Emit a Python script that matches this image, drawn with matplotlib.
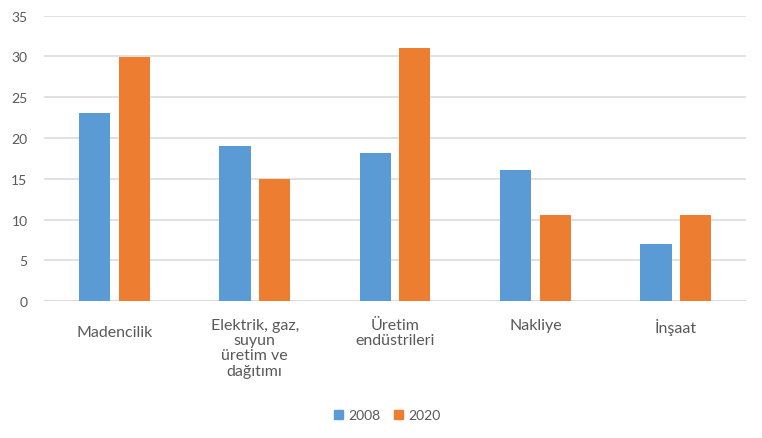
import numpy as np
import matplotlib
matplotlib.use("Agg")
import matplotlib.pyplot as plt
from matplotlib.patches import Patch
import matplotlib.transforms as mtransforms

categories = ["Madencilik", "Elektrik, gaz,\nsuyun\nüretim ve\ndağıtımı",
              "Üretim\nendüstrileri", "Nakliye", "İnşaat"]
series_names = ["2008", "2020"]
values_2008 = [23.1, 19.05, 18.2, 16.1, 7.05]
values_2020 = [29.9, 14.95, 31.0, 10.6, 10.6]
yticks = [0, 5, 10, 15, 20, 25, 30, 35]

BLUE = "#5B9BD5"
ORANGE = "#ED7D31"
TEXT = "#595959"
GRID = "#D9D9D9"

plt.rcParams["font.family"] = ["Lato", "DejaVu Sans"]

fig = plt.figure(figsize=(7.62, 4.39), dpi=100)
ax = fig.add_axes([0.058, 0.312, 0.921, 0.650])

x = np.arange(len(categories))
w = 0.222
off = 0.141
ax.bar(x - off, values_2008, w, color=BLUE, zorder=3)
ax.bar(x + off, values_2020, w, color=ORANGE, zorder=3)

ax.set_xlim(-0.5, len(categories) - 0.5)
ax.set_ylim(0, 35)
ax.set_yticks(yticks)
ax.yaxis.grid(True, color=GRID, linewidth=1.1, zorder=0)
ax.tick_params(axis="y", length=0, pad=12, labelsize=10, labelcolor=TEXT)
ax.set_xticks([])
for s in ax.spines.values():
    s.set_visible(False)
ax.axhline(0, color=GRID, linewidth=1.3, zorder=2)

# category labels (Excel puts the single-line Madencilik a bit lower)
label_y = [-0.084, -0.058, -0.058, -0.058, -0.058]
trans = mtransforms.blended_transform_factory(ax.transData, ax.transAxes)
for xi, lab, ly in zip(x, categories, label_y):
    ax.text(xi, ly, lab, transform=trans, ha="center", va="top",
            fontsize=11.5, color=TEXT, linespacing=1.12)

handles = [Patch(color=BLUE), Patch(color=ORANGE)]
fig.legend(handles, series_names, loc="center", bbox_to_anchor=(0.508, 0.052),
           ncol=2, frameon=False, fontsize=10, labelcolor=TEXT,
           handlelength=0.65, handleheight=0.65, handletextpad=0.35, columnspacing=1.0)

fig.savefig("out.png", dpi=100)
